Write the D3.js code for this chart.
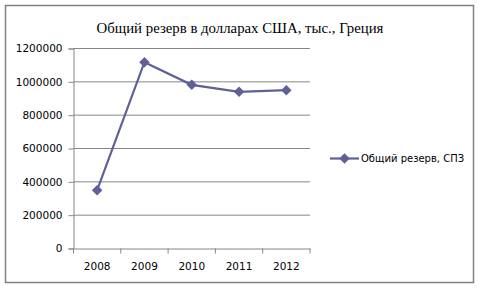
<!DOCTYPE html>
<html>
<head>
<meta charset="utf-8">
<script src="https://cdn.jsdelivr.net/npm/d3@7"></script>
<style>
  body { margin: 0; background: #fff; }
  svg { display: block; }
</style>
</head>
<body>
<div id="chart"></div>
<script>
const years = ["2008", "2009", "2010", "2011", "2012"];
const reserves = [350000, 1118000, 982000, 940000, 950000];
const yTicks = [0, 200000, 400000, 600000, 800000, 1000000, 1200000];
const chartTitle = "Общий резерв в долларах США, тыс., Греция";
const seriesName = "Общий резерв, СПЗ";

const sizes = {
    width: 480,
    height: 288,
    plotLeft: 73.5,
    plotRight: 310,
    plotTop: 48.5,
    plotBottom: 248.5
};

const lineColor = "#5f5f99";
const gridColor = "#868686";

const svg = d3.select("#chart")
    .append("svg")
    .attr("width", sizes.width)
    .attr("height", sizes.height);

// outer frame
svg.append("rect")
    .attr("x", 5.5)
    .attr("y", 5.5)
    .attr("width", 468)
    .attr("height", 277)
    .attr("fill", "#fff")
    .attr("stroke", "#808080")
    .attr("stroke-width", 1.5);

svg.append("text")
    .attr("x", 240)
    .attr("y", 33)
    .attr("text-anchor", "middle")
    .style("font-family", "'Liberation Serif', 'Times New Roman', serif")
    .style("font-size", "14.8px")
    .text(chartTitle);

const xScale = d3.scaleBand()
    .domain(years)
    .range([sizes.plotLeft, sizes.plotRight]);

const yScale = d3.scaleLinear()
    .domain([0, 1200000])
    .range([sizes.plotBottom, sizes.plotTop]);

// grid
svg.append("g")
    .selectAll("line")
    .data(yTicks.filter(t => t > 0))
    .join("line")
    .attr("x1", sizes.plotLeft)
    .attr("x2", sizes.plotRight)
    .attr("y1", d => yScale(d))
    .attr("y2", d => yScale(d))
    .attr("stroke", gridColor)
    .attr("stroke-width", 1);

const yAxis = d3.axisLeft(yScale)
    .tickValues(yTicks)
    .tickFormat(d3.format("d"))
    .tickSize(5)
    .tickPadding(6);

const yG = svg.append("g")
    .attr("transform", "translate(" + sizes.plotLeft + ",0)")
    .call(yAxis);

const xAxis = d3.axisBottom(xScale)
    .tickSize(0)
    .tickPadding(14);

const xG = svg.append("g")
    .attr("transform", "translate(0," + sizes.plotBottom + ")")
    .call(xAxis);

// x tick marks at band boundaries
xG.selectAll(".edge")
    .data(years.map(y => xScale(y)).concat([sizes.plotRight]))
    .join("line")
    .attr("class", "edge")
    .attr("x1", d => d)
    .attr("x2", d => d)
    .attr("y1", 0)
    .attr("y2", 5)
    .attr("stroke", gridColor);

[yG, xG].forEach(g => {
    g.select(".domain").attr("stroke", gridColor).attr("stroke-width", 1);
    g.selectAll(".tick line").attr("stroke", gridColor);
    g.selectAll("text")
        .attr("fill", "#000")
        .style("font-family", "'DejaVu Sans', Verdana, sans-serif")
        .style("font-size", "10.5px");
});

const line = d3.line()
    .x((d, i) => xScale(years[i]) + xScale.bandwidth() / 2)
    .y(d => yScale(d));

svg.append("path")
    .datum(reserves)
    .attr("fill", "none")
    .attr("stroke", lineColor)
    .attr("stroke-width", 2.2)
    .attr("d", line);

const diamond = d3.symbol().type(d3.symbolDiamond2).size(70);

svg.append("g")
    .selectAll("path")
    .data(reserves)
    .join("path")
    .attr("transform", (d, i) => "translate(" + (xScale(years[i]) + xScale.bandwidth() / 2) + "," + yScale(d) + ")")
    .attr("d", diamond)
    .attr("fill", lineColor);

// legend
const legend = svg.append("g")
    .attr("transform", "translate(330,158.5)");

legend.append("line")
    .attr("x1", 0)
    .attr("x2", 29)
    .attr("stroke", lineColor)
    .attr("stroke-width", 2.2);

legend.append("path")
    .attr("transform", "translate(14.5,0)")
    .attr("d", diamond)
    .attr("fill", lineColor);

legend.append("text")
    .attr("x", 31)
    .attr("y", 0)
    .attr("dy", "0.35em")
    .style("font-family", "'DejaVu Sans', Verdana, sans-serif")
    .style("font-size", "10px")
    .text(seriesName);
</script>
</body>
</html>
